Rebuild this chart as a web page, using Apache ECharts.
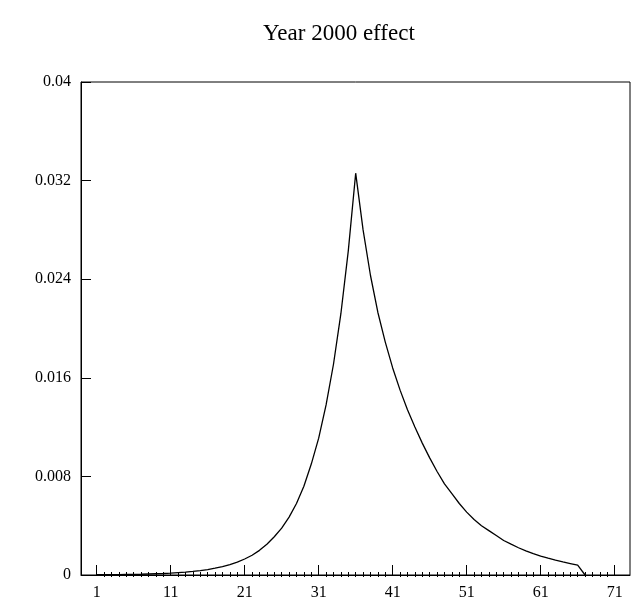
<!DOCTYPE html>
<html>
<head>
<meta charset="utf-8">
<script src="https://cdn.jsdelivr.net/npm/echarts@6/dist/echarts.min.js"></script>
<style>
html,body{margin:0;padding:0;background:#fff;}
#chart{width:631px;height:601px;}
</style>
</head>
<body>
<div id="chart"></div>
<script>
// periods 1..67
var periods=[];
for(var i=1;i<=67;i++){periods.push(i);}
var effect=[
	0.00002,0.00002,0.00003,0.00003,0.00004,0.00005,0.00006,0.00008,0.0001,0.00012,
	0.00015,0.00019,0.00023,0.00029,0.00036,0.00044,0.00055,0.00068,0.00085,0.00105,
	0.0013,0.0016,0.0020,0.0025,0.0031,0.0038,0.0047,0.0058,0.0072,0.0090,
	0.0111,0.0138,0.0171,0.0212,0.0263,0.0326,0.0280,0.0243,0.0213,0.0189,
	0.0168,0.0150,0.0134,0.0120,0.0107,0.0095,0.0084,0.0074,0.0066,0.0058,
	0.0051,0.0045,0.0040,0.0036,0.0032,0.0028,0.00250,0.00221,0.00196,0.00173,
	0.00153,0.00136,0.00120,0.00106,0.00093,0.00080,0
];
var xLabels=[1,11,21,31,41,51,61,71];
var xMinor=[];
for(var i=1;i<=71;i++){if(xLabels.indexOf(i)<0) xMinor.push(i);}

function draw(){
	var font='Liberation Serif';
	var pts=[];
	for(var i=0;i<periods.length;i++){pts.push([periods[i],effect[i]]);}
	var gridPos={left:81,right:1,top:82,bottom:24};
	var option={
		animation:false,
		title:{
			text:'Year 2000 effect',
			left:258,
			top:17,
			textStyle:{color:'#000',fontFamily:font,fontWeight:'normal',fontSize:23}
		},
		grid:[
			Object.assign({show:true,borderColor:'#000',borderWidth:1},gridPos),
			Object.assign({show:false},gridPos)
		],
		xAxis:[
			{
				type:'value',gridIndex:0,min:-1.12,max:73.07,
				axisLine:{onZero:false,lineStyle:{color:'#000',width:1}},
				axisTick:{inside:true,length:10,customValues:xLabels,lineStyle:{color:'#000'}},
				axisLabel:{customValues:xLabels,color:'#000',fontFamily:font,fontSize:16,margin:10},
				splitLine:{show:false}
			},
			{
				type:'value',gridIndex:1,min:-1.12,max:73.07,
				axisLine:{show:false,onZero:false},
				axisTick:{inside:true,length:5,customValues:xMinor,lineStyle:{color:'#000'}},
				axisLabel:{show:false},
				splitLine:{show:false}
			}
		],
		yAxis:[
			{
				type:'value',gridIndex:0,min:0,max:0.04,interval:0.008,
				axisLine:{show:true,onZero:false,lineStyle:{color:'#000',width:1}},
				axisTick:{show:true,inside:true,length:10,lineStyle:{color:'#000'}},
				axisLabel:{color:'#000',fontFamily:font,fontSize:16,margin:10},
				splitLine:{show:false}
			},
			{type:'value',gridIndex:1,min:0,max:0.04,show:false,axisLine:{onZero:false}}
		],
		series:[{
			type:'line',
			xAxisIndex:0,yAxisIndex:0,
			data:pts,
			symbol:'none',
			lineStyle:{color:'#000',width:1.3}
		}]
	};
	var myChart=echarts.init(document.getElementById('chart'));
	myChart.setOption(option);
}
draw();
</script>
</body>
</html>
